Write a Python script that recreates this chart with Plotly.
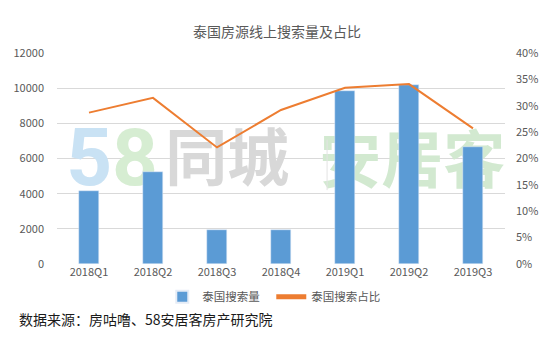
import plotly.graph_objects as go

categories = ["2018Q1", "2018Q2", "2018Q3", "2018Q4", "2019Q1", "2019Q2", "2019Q3"]
search_volume = [4170, 5230, 1940, 1940, 9820, 10180, 6680]
search_share = [28.7, 31.5, 22.1, 29.2, 33.4, 34.1, 25.7]
left_ticks = [0, 2000, 4000, 6000, 8000, 10000, 12000]
right_ticks = [0, 5, 10, 15, 20, 25, 30, 35, 40]

xs = list(range(len(categories)))
CJK = "Noto Sans CJK SC"
GREY = "#595959"

fig = go.Figure()

# watermark (background, drawn on the hidden main y axis)
wm = [
    ("<b><span style='color:#c9e2f4'>5</span><span style='color:#d6edd2'>8</span></b>",
     0.36, 0.47, "#c9e2f4", 80, "Roboto"),
    ("<b>同城</b>", 2.16, 0.465, "#d8d8d8", 62, CJK),
    ("<b>安居客</b>", 5.05, 0.455, "#d2e9d0", 62, CJK),
]
for t, x, y, c, s, f in wm:
    fig.add_trace(go.Scatter(x=[x], y=[y], mode="text", text=[t],
                             textfont=dict(color=c, size=s, family=f),
                             textposition="middle center", showlegend=False,
                             hoverinfo="skip", xaxis="x", yaxis="y"))
fig.add_trace(go.Scatter(x=[3.72, 3.72], y=[0.35, 0.59], mode="lines",
                         line=dict(color="#e3e3e3", width=1), showlegend=False,
                         hoverinfo="skip", xaxis="x", yaxis="y"))

fig.add_trace(go.Bar(x=xs, y=search_volume, name="泰国搜索量", marker_color="#5b9bd5",
                     width=0.32, xaxis="x", yaxis="y2"))
fig.add_trace(go.Scatter(x=xs, y=search_share, name="泰国搜索占比", mode="lines",
                         line=dict(color="#ed7d31", width=2), xaxis="x", yaxis="y3"))

fig.update_layout(
    width=554, height=338,
    margin=dict(l=57, r=49, t=53, b=74),
    paper_bgcolor="white", plot_bgcolor="white",
    title=dict(text="泰国房源线上搜索量及占比", x=0.5, xanchor="center", y=0.905, yanchor="middle",
               font=dict(family=CJK, size=14, color=GREY)),
    font=dict(family=CJK, size=11, color=GREY),
    xaxis=dict(range=[-0.5, 6.5], tickvals=xs, ticktext=categories, showgrid=False,
               zeroline=False, showline=False, ticks="", tickfont=dict(size=11, color=GREY)),
    yaxis=dict(range=[0, 1], visible=False, showgrid=False, zeroline=False),
    yaxis2=dict(overlaying="y", side="left", range=[0, 12000], tickvals=left_ticks,
                ticktext=[str(v) for v in left_ticks],
                showgrid=True, gridcolor="#d9d9d9", gridwidth=1, zeroline=False,
                tickfont=dict(size=11, color=GREY), ticks="", ticklabelstandoff=12),
    yaxis3=dict(overlaying="y", side="right", range=[0, 40], tickvals=right_ticks,
                ticktext=[f"{v}%" for v in right_ticks], showgrid=False, zeroline=False,
                tickfont=dict(size=11, color=GREY), ticks="", ticklabelstandoff=10),
    legend=dict(orientation="h", x=0.235, xanchor="left", y=-0.155, yanchor="middle",
                font=dict(size=11.5, color=GREY), itemwidth=30, tracegroupgap=0,
                entrywidth=64, entrywidthmode="pixels", itemsizing="constant"),
    bargap=0,
)
fig.add_annotation(text="数据来源：房咕噜、58安居客房产研究院", xref="paper", yref="paper",
                   x=-0.09, y=-0.26, xanchor="left", yanchor="middle", showarrow=False,
                   font=dict(family=CJK, size=14, color="#1a1a1a"))

fig.write_html("out.html")
